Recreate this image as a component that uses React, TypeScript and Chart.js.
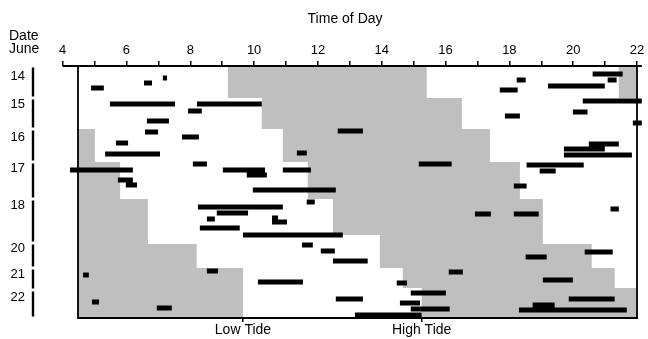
import React, { useEffect, useRef } from 'react';
import { Chart, registerables } from 'chart.js';

Chart.register(...registerables);

// ---- axis text ----
const xTitle = 'Time of Day';
const yTitle = ['Date', 'June'];

// hours of day (top axis)
const hourTicks = [4, 5, 6, 7, 8, 9, 10, 11, 12, 13, 14, 15, 16, 17, 18, 19, 20, 21, 22];
const xMin = 3.07;
const xMax = 22;
const plotStart = 4.48;

// tide marks (bottom axis)
const tideTimes = [9.65, 15.25];
const tideLabels = ['Low Tide', 'High Tide'];

// date groups (rows counted from the top)
const dateLabels = ['14', '15', '16', '17', '18', '20', '21', '22'];
const dateLabelRow = [2.5, 9.6, 17.75, 25.5, 34.75, 45.5, 52, 57.75];
const dateRowStart = [0, 8, 15.75, 24, 33.25, 44.25, 50.5, 56];
const lastRow = 63;

// observation periods: row, start hour, end hour
const obsRow = [
  2, 3, 3.5, 3.5, 4.25, 5, 5.5, 6,
  8.75, 9.5, 9.5, 11.25, 11.5, 12.5, 13.75, 14.25,
  16.25, 16.5, 17.75, 19.25, 19.5, 20.75, 21.75, 22, 22.25,
  24.5, 24.5, 24.75, 26, 26, 26, 26.25, 27.25, 28.5, 29.75, 30, 31,
  34, 35.25, 35.75, 36.75, 37, 37, 38, 38.25, 39, 40.5, 42.25,
  44.75, 46.25, 46.5, 47.75, 48.75,
  51.25, 51.5, 52.25, 53.5, 54, 54.25,
  56.75, 58.25, 58.25, 59, 59.25, 59.75, 60.5, 60.75, 61, 62.25,
];
const obsStart = [
  20.61, 7.14, 18.23, 21.08, 6.55, 19.21, 4.89, 17.7,
  20.3, 5.48, 8.21, 7.93, 19.99, 17.86, 6.64, 21.87,
  12.62, 6.58, 7.74, 5.67, 20.49, 19.71, 11.34, 5.33, 19.71,
  8.08, 15.16, 18.54, 4.23, 9.02, 10.9, 18.95, 9.77, 5.73, 5.98, 18.14, 9.96,
  11.65, 8.24, 21.17, 8.83, 16.92, 18.14, 10.56, 8.52, 10.56, 8.3, 9.65,
  11.5, 12.09, 20.36, 18.51, 12.47,
  8.52, 16.1, 4.64, 19.05, 10.12, 14.47,
  14.91, 12.56, 19.86, 4.92, 14.57, 18.73, 6.95, 14.91, 18.3, 13.16,
];
const obsEnd = [
  21.55, 7.27, 18.51, 21.36, 6.8, 20.99, 5.29, 18.26,
  22.15, 7.52, 10.24, 8.36, 20.45, 18.33, 7.33, 22.15,
  13.41, 6.99, 8.27, 6.05, 21.43, 20.99, 11.65, 7.05, 21.84,
  8.52, 16.19, 20.33, 6.2, 10.34, 11.78, 19.45, 10.4, 6.2, 6.33, 18.54, 12.56,
  11.9, 10.9, 21.43, 9.81, 17.42, 18.92, 10.75, 8.77, 11.03, 9.55, 12.78,
  11.84, 12.53, 21.24, 19.17, 13.56,
  8.87, 16.54, 4.82, 19.99, 11.53, 14.79,
  16.01, 13.41, 21.3, 5.14, 15.2, 19.42, 7.42, 16.13, 21.68, 15.25,
];

// shaded tide bands, by row steps
const bandBreaks = [0, 8, 15.75, 24, 33.25, 42.25, 44.5, 50.5, 55.5, 63];
const midBandFrom = [9.18, 10.24, 10.9, 11.68, 12.47, 13.94, 13.94, 14.66, 15.25];
const midBandTo = [15.41, 16.51, 17.39, 18.33, 19.05, 19.05, 20.58, 21.3, 22];
const earlyBandTo = [null, null, 5.01, 5.8, 6.67, 6.67, 8.2, 9.65, 9.65];
const lateBandFrom = [21.43, null, null, null, null, null, null, null, null];

type P = { x: number | null; y: number | null };

function stepPolygon(from: (number | null)[], to: (number | null)[]): P[] {
  const idx: number[] = [];
  for (let i = 0; i < from.length; i++) if (from[i] != null && to[i] != null) idx.push(i);
  const pts: P[] = [];
  for (const i of idx) {
    pts.push({ x: from[i] as number, y: bandBreaks[i] });
    pts.push({ x: from[i] as number, y: bandBreaks[i + 1] });
  }
  for (let k = idx.length - 1; k >= 0; k--) {
    const i = idx[k];
    pts.push({ x: to[i] as number, y: bandBreaks[i + 1] });
    pts.push({ x: to[i] as number, y: bandBreaks[i] });
  }
  return pts;
}

const GAP: P = { x: null, y: null };

export default function App() {
  const ref = useRef<HTMLCanvasElement>(null);

  useEffect(() => {
    document.body.style.margin = '0';
    const canvas = ref.current;
    if (!canvas) return;

    const barPoints: P[] = [];
    obsRow.forEach((r, i) => {
      barPoints.push({ x: obsStart[i], y: r }, { x: obsEnd[i], y: r }, GAP);
    });

    const yAxisPoints: P[] = [];
    dateRowStart.forEach((s, i) => {
      const e = i + 1 < dateRowStart.length ? dateRowStart[i + 1] : lastRow;
      yAxisPoints.push({ x: xMin, y: s + 0.35 }, { x: xMin, y: e - 0.35 }, GAP);
    });

    const framePoints: P[] = [
      { x: 4, y: 0 }, { x: 22.15, y: 0 }, GAP,
      { x: plotStart, y: 0 }, { x: plotStart, y: lastRow }, { x: xMax, y: lastRow }, { x: xMax, y: 0 },
    ];

    const earlyFrom = earlyBandTo.map((v) => (v == null ? null : plotStart));
    const lateTo = lateBandFrom.map((v) => (v == null ? null : xMax));

    const grey = '#bfbfbf';
    const shade = (data: P[]) => ({
      data,
      showLine: true,
      fill: 'shape',
      backgroundColor: grey,
      borderColor: 'rgba(0,0,0,0)',
      borderWidth: 0,
      pointRadius: 0,
      order: 3,
    });

    const font = { family: '"Liberation Sans", Arial, sans-serif', size: 13 };

    const textPlugin = {
      id: 'axisTexts',
      afterDraw(chart: any) {
        const ctx = chart.ctx;
        const xs = chart.scales.x;
        ctx.save();
        ctx.fillStyle = '#000';
        ctx.font = '14px "Liberation Sans", Arial, sans-serif';
        ctx.textBaseline = 'alphabetic';
        ctx.textAlign = 'left';
        ctx.fillText(yTitle[0], 9, 40);
        ctx.fillText(yTitle[1], 9, 53);
        ctx.textAlign = 'center';
        ctx.fillText(xTitle, xs.getPixelForValue(12.85), 23);
        ctx.restore();
      },
    };

    const chart = new Chart(canvas, {
      type: 'scatter',
      data: {
        datasets: [
          {
            data: framePoints,
            showLine: true,
            borderColor: '#000',
            borderWidth: 1.8,
            pointRadius: 0,
            spanGaps: false,
            clip: false,
            order: 0,
          } as any,
          {
            data: yAxisPoints,
            showLine: true,
            borderColor: '#000',
            borderWidth: 2.4,
            pointRadius: 0,
            spanGaps: false,
            clip: false,
            order: 0,
          } as any,
          {
            data: barPoints,
            showLine: true,
            borderColor: '#000',
            borderWidth: 5,
            borderCapStyle: 'butt',
            pointRadius: 0,
            spanGaps: false,
            clip: false,
            order: 1,
          } as any,
          shade(stepPolygon(midBandFrom, midBandTo)) as any,
          shade(stepPolygon(earlyFrom, earlyBandTo)) as any,
          shade(stepPolygon(lateBandFrom, lateTo)) as any,
        ],
      },
      options: {
        responsive: false,
        animation: false,
        events: [],
        layout: { padding: { left: 0, top: 0, right: 11, bottom: 0 } },
        plugins: { legend: { display: false }, tooltip: { enabled: false } },
        scales: {
          x: {
            type: 'linear',
            position: 'top',
            min: xMin,
            max: xMax,
            afterBuildTicks: (s: any) => {
              s.ticks = hourTicks.map((v) => ({ value: v }));
            },
            afterFit: (s: any) => {
              s.height = 66;
            },
            ticks: {
              autoSkip: false,
              maxRotation: 0,
              padding: 3,
              color: '#000',
              font,
              callback: (v: any) => (Number(v) % 2 === 0 ? String(v) : ''),
            },
            grid: { drawOnChartArea: false, tickLength: 5, color: '#000', lineWidth: 1.5 },
            border: { display: false },
          },
          x2: {
            type: 'linear',
            position: 'bottom',
            min: xMin,
            max: xMax,
            afterBuildTicks: (s: any) => {
              s.ticks = tideTimes.map((v) => ({ value: v }));
            },
            afterFit: (s: any) => {
              s.height = 21;
            },
            ticks: {
              autoSkip: false,
              maxRotation: 0,
              padding: 0,
              color: '#000',
              font: { ...font, size: 14 },
              callback: (_v: any, i: number) => tideLabels[i],
            },
            grid: { drawOnChartArea: false, tickLength: 4, color: '#000', lineWidth: 1.5 },
            border: { display: false },
          },
          y: {
            type: 'linear',
            reverse: true,
            min: 0,
            max: lastRow,
            afterBuildTicks: (s: any) => {
              s.ticks = dateLabelRow.map((v) => ({ value: v }));
            },
            afterFit: (s: any) => {
              s.width = 33;
            },
            ticks: {
              autoSkip: false,
              padding: 8,
              color: '#000',
              font,
              callback: (_v: any, i: number) => dateLabels[i],
            },
            grid: { display: false, drawTicks: false },
            border: { display: false },
          },
        },
      } as any,
      plugins: [textPlugin],
    });

    return () => chart.destroy();
  }, []);

  return (
    <div style={{ position: 'fixed', left: 0, top: 0, width: 648, height: 339, background: '#fff' }}>
      <canvas ref={ref} width={648} height={339} style={{ width: 648, height: 339, display: 'block' }} />
    </div>
  );
}
